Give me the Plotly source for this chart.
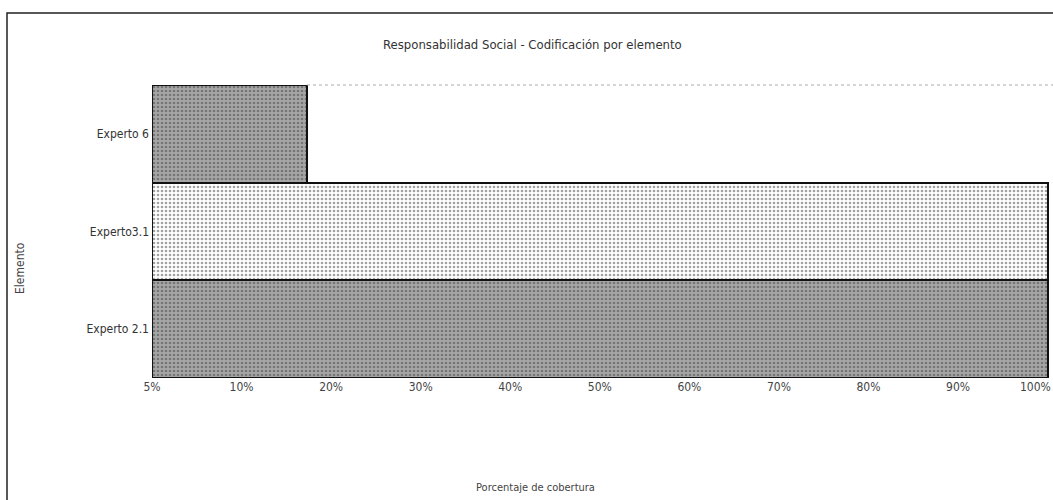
import plotly.graph_objects as go

categories = ["Experto 2.1", "Experto3.1", "Experto 6"]
coverage = [100, 100, 17.3]
fill_colors = ["#a6a6a6", "#ffffff", "#a6a6a6"]
dot_colors = ["#505050", "#b8b8b8", "#505050"]
tick_vals = [0, 10, 20, 30, 40, 50, 60, 70, 80, 90]
tick_text = ["5%", "10%", "20%", "30%", "40%", "50%", "60%", "70%", "80%", "90%"]
last_tick_text = "100%"

FONT = "DejaVu Sans Condensed, Liberation Sans Narrow, Liberation Sans, sans-serif"

fig = go.Figure()
fig.add_trace(go.Bar(
    y=categories, x=coverage, orientation="h",
    marker=dict(
        color=fill_colors,
        line=dict(color="#111111", width=2),
        pattern=dict(shape=".", fgcolor=dot_colors, size=4, solidity=0.35),
    ),
    width=1.0,
    hoverinfo="x+y",
))

W, H = 1053, 500
L, R, T, B = 152, 0, 85, 122
pw, ph = W - L - R, H - T - B

def px(x):
    return (x - L) / pw

def py(y):
    return (H - B - y) / ph

fig.update_layout(
    width=W, height=H,
    margin=dict(l=L, r=R, t=T, b=B, autoexpand=False),
    paper_bgcolor="white", plot_bgcolor="white",
    showlegend=False,
    bargap=0,
    font=dict(family=FONT, size=12, color="#333333"),
    xaxis=dict(range=[0, 100.6], tickvals=tick_vals, ticktext=tick_text,
               showgrid=False, zeroline=False, showline=False, ticks="",
               automargin=False,
               tickfont=dict(size=12, color="#444444"), fixedrange=True),
    yaxis=dict(showgrid=False, zeroline=False, showline=False, ticks="",
               range=[-0.5, 2.5], ticklabelstandoff=2, automargin=False,
               tickfont=dict(size=12, color="#333333"), fixedrange=True),
    shapes=[
        dict(type="rect", xref="paper", yref="paper",
             x0=px(7), x1=px(1070), y0=py(510), y1=py(13),
             line=dict(color="#222222", width=1.5), fillcolor="rgba(0,0,0,0)",
             layer="below"),
        dict(type="line", xref="paper", yref="paper",
             x0=px(307), x1=1.0, y0=1, y1=1,
             line=dict(color="#aaaaaa", width=1, dash="dot")),
    ],
    annotations=[
        dict(text="Responsabilidad Social - Codificación por elemento",
             xref="paper", yref="paper", x=px(532), y=py(45),
             xanchor="center", yanchor="middle",
             showarrow=False, font=dict(size=13, color="#333333")),
        dict(text=last_tick_text,
             xref="paper", yref="paper", x=1.0, xanchor="right",
             y=py(387), yanchor="middle",
             showarrow=False, font=dict(size=12, color="#444444")),
        dict(text="Porcentaje de cobertura",
             xref="paper", yref="paper", x=px(535), y=py(487),
             xanchor="center", yanchor="middle",
             showarrow=False, font=dict(size=11, color="#444444")),
        dict(text="Elemento", textangle=-90,
             xref="paper", yref="paper", x=px(20), y=py(268),
             xanchor="center", yanchor="middle",
             showarrow=False, font=dict(size=12, color="#444444")),
    ],
)

fig.write_html("out.html")
